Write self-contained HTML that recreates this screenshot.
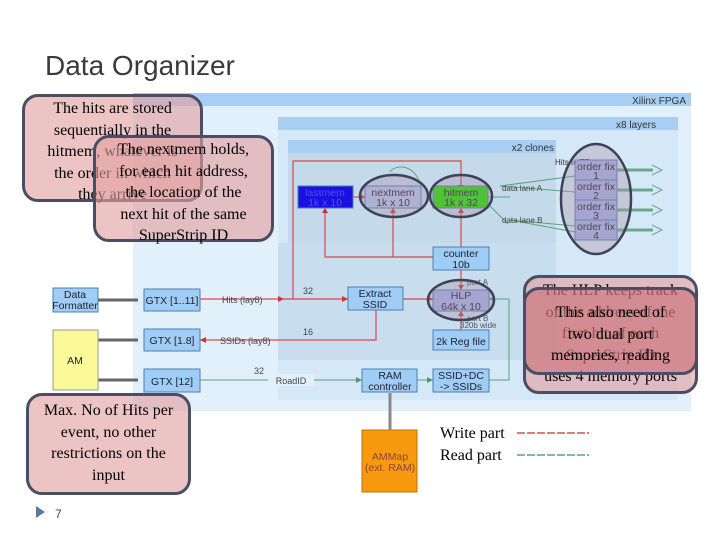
<!DOCTYPE html>
<html><head><meta charset="utf-8"><style>
body{margin:0;width:720px;height:540px;background:#fff;overflow:hidden;position:relative;font-family:"Liberation Sans",sans-serif}
.t{position:absolute;left:45px;top:50px;font-size:28px;color:#3a3a3a}
.c{position:absolute;border:3px solid #4a4e62;border-radius:16px;background:rgba(226,160,160,.62);font-family:"Liberation Serif",serif;font-size:16px;line-height:21.5px;text-align:center;color:#000;box-sizing:border-box;white-space:nowrap}
</style></head><body>
<div class="t">Data Organizer</div>
<svg width="720" height="540" style="position:absolute;left:0;top:0" font-family="Liberation Sans,sans-serif">
<rect x="133" y="93" width="558" height="318" fill="#e2f0fb"/>
<rect x="133" y="93" width="558" height="13" fill="#a8cff3"/>
<text x="686" y="104" font-size="10" text-anchor="end" fill="#333">Xilinx FPGA</text>
<rect x="278" y="117" width="400" height="283" fill="#d4e8f7"/>
<rect x="278" y="117" width="400" height="13" fill="#a8cff3"/>
<text x="656" y="128" font-size="10" text-anchor="end" fill="#333">x8 layers</text>
<rect x="288" y="140" width="268" height="103" fill="#c4d9ea"/>
<rect x="288" y="140" width="268" height="13" fill="#a8cff3"/>
<text x="554" y="151" font-size="10" text-anchor="end" fill="#333">x2 clones</text>
<rect x="278" y="243" width="278" height="117" fill="#c8ddee"/>
<g stroke="#d84a4a" stroke-width="1.2" fill="none">
<path d="M293 299V161H461V186"/><path d="M200 299H348"/><path d="M403 299H433"/>
<path d="M376 310V340H200"/><path d="M461 270V290"/><path d="M461 247V208"/>
<path d="M433 257H325V208"/><path d="M393 257V208"/><path d="M353 197H365"/><path d="M461 330V311"/>
</g>
<g fill="#d83030"><path d="M461 190l-3-5h6z"/><path d="M348 299l-6-3v6z"/><path d="M433 299l-6-3v6z"/><path d="M200 340l6-3v6z"/><path d="M461 290l-3-5h6z"/><path d="M461 311l-3 5h6z"/><path d="M325 208l-3 5h6z"/><path d="M393 208l-3 5h6z"/><path d="M461 208l-3 5h6z"/><path d="M365 197l-5-3v6z"/><path d="M284 299l-6-3v6z"/></g>
<g stroke="#5aa57a" stroke-width="1" fill="none"><path d="M200 380H362"/><path d="M417 380H433"/><path d="M489 380H509V299H489"/><path d="M488 197H510M488 204l20 20"/><path d="M500 186l75-10M500 186l75 6M510 220l65 6M510 220l65 12"/><path d="M390 172c5-8 25-8 30 12"/></g>
<g fill="#4a9a6a"><path d="M362 380l-6-3v6z"/><path d="M433 380l-6-3v6z"/><path d="M489 299l6-3v6z"/></g>
<rect x="268" y="374" width="46" height="12" fill="#e2f0fb"/><text x="291" y="384" font-size="9" text-anchor="middle" fill="#444">RoadID</text>
<text x="222" y="303" font-size="9" fill="#444">Hits (lay8)</text><text x="220" y="344" font-size="9" fill="#444">SSIDs (lay8)</text>
<text x="303" y="294" font-size="9" fill="#444">32</text><text x="303" y="335" font-size="9" fill="#444">16</text><text x="254" y="374" font-size="9" fill="#444">32</text>
<text x="467" y="285" font-size="8" fill="#555">port A</text><text x="467" y="321" font-size="8" fill="#555">port B</text><text x="460" y="328" font-size="8" fill="#555">320b wide</text>
<text x="555" y="165" font-size="8" fill="#333">Hits to TF</text><text x="502" y="191" font-size="8" fill="#444">data lane A</text><text x="502" y="223" font-size="8" fill="#444">data lane B</text>
<g stroke="#6aa88a" stroke-width="3" fill="none"><path d="M617 170h36M617 190h36M617 210h36M617 230h36"/></g>
<g fill="none" stroke="#6aa88a"><path d="M652 165l10 5-10 5M652 185l10 5-10 5M652 205l10 5-10 5M652 225l10 5-10 5"/></g>
<g stroke="#666" fill="none" stroke-width="3"><path d="M98 300h40M98 340h40M98 380h40"/></g>
<g stroke="#5080b0" stroke-width="1" font-size="10.5" text-anchor="middle">
<rect x="53" y="288" width="45" height="24" fill="#9fcdf5"/><rect x="53" y="330" width="45" height="60" fill="#fafa98" stroke="#999"/>
<rect x="144" y="289" width="56" height="22" fill="#9fcdf5"/><rect x="144" y="329" width="56" height="22" fill="#9fcdf5"/><rect x="144" y="369" width="56" height="23" fill="#9fcdf5"/>
<rect x="348" y="287" width="55" height="23" fill="#9fcdf5"/><rect x="433" y="290" width="56" height="21" fill="#a4b2e8"/>
<rect x="433" y="247" width="56" height="23" fill="#9fcdf5"/><rect x="433" y="330" width="56" height="20" fill="#9fcdf5"/>
<rect x="362" y="369" width="55" height="23" fill="#9fcdf5"/><rect x="433" y="369" width="56" height="23" fill="#9fcdf5"/>
<rect x="362" y="430" width="55" height="62" fill="#f79a10" stroke="#c07000"/>
<rect x="298" y="186" width="55" height="22" fill="#1a10e0"/><rect x="365" y="186" width="56" height="22" fill="#b4c2f0"/><rect x="433" y="186" width="55" height="22" fill="#22dd00"/>
<rect x="575" y="160" width="42" height="20" fill="#a4b2e8"/><rect x="575" y="180" width="42" height="20" fill="#a4b2e8"/><rect x="575" y="200" width="42" height="20" fill="#a4b2e8"/><rect x="575" y="220" width="42" height="20" fill="#a4b2e8"/>
</g>
<path d="M390 393v37" stroke="#888" stroke-width="3"/>
<g font-size="10.5" text-anchor="middle" fill="#223">
<text x="75" y="298">Data</text><text x="75" y="309">Formatter</text><text x="75" y="364">AM</text>
<text x="172" y="304">GTX [1..11]</text><text x="172" y="344">GTX [1.8]</text><text x="172" y="385">GTX [12]</text>
<text x="375" y="297">Extract</text><text x="375" y="308">SSID</text><text x="461" y="299">HLP</text><text x="461" y="310">64k x 10</text>
<text x="461" y="257">counter</text><text x="461" y="268">10b</text><text x="461" y="345">2k Reg file</text>
<text x="390" y="379">RAM</text><text x="390" y="390">controller</text><text x="461" y="379">SSID+DC</text><text x="461" y="390">-&gt; SSIDs</text>
<text x="390" y="460" fill="#844">AMMap</text><text x="390" y="471" fill="#844">(ext. RAM)</text>
<text x="325" y="196" fill="#5050f0">lastmem</text><text x="325" y="206" fill="#5050f0">1k x 10</text>
<text x="393" y="196">nextmem</text><text x="393" y="206">1k x 10</text><text x="461" y="196">hitmem</text><text x="461" y="206">1k x 32</text>
<text x="596" y="170">order fix</text><text x="596" y="179">1</text><text x="596" y="190">order fix</text><text x="596" y="199">2</text><text x="596" y="210">order fix</text><text x="596" y="219">3</text><text x="596" y="230">order fix</text><text x="596" y="239">4</text>
</g>
<g fill="rgba(170,140,160,.35)" stroke="#3e4258" stroke-width="2.5">
<ellipse cx="394" cy="196" rx="34" ry="21"/><ellipse cx="461" cy="196" rx="31" ry="21"/><ellipse cx="596" cy="199" rx="35" ry="55"/><ellipse cx="461" cy="300" rx="33" ry="20"/>
</g>
<text x="440" y="438" font-size="16" font-family="Liberation Serif,serif">Write part</text><text x="440" y="460" font-size="16" font-family="Liberation Serif,serif">Read  part</text>
<path d="M517 433h72" stroke="#c03030" stroke-width="1.3" stroke-dasharray="8,2"/><path d="M517 455h72" stroke="#309070" stroke-width="1.3" stroke-dasharray="8,2"/>
<path d="M36 506l9 6-9 6z" fill="#5a7aa0"/><text x="55" y="518" font-size="12" fill="#444">7</text>
</svg>
<div class="c" style="left:22px;top:94px;width:181px;height:108px;padding-top:1px">The hits are stored<br>sequentially in the<br>hitmem, whatever is<br>the order in which<br>they arrive</div>
<div class="c" style="left:93px;top:135px;width:181px;height:107px;padding-top:1px">The nextmem holds,<br>for each hit address,<br>the location of the<br>next hit of the same<br>SuperStrip ID</div>
<div class="c" style="left:523px;top:275px;width:175px;height:119px;padding-top:2px">The HLP keeps track<br>of the address of the<br>first hit of each<br>SuperStrip ID<br>uses 4 memory ports</div>
<div class="c" style="left:523px;top:287px;width:175px;height:88px;padding-top:12px;background:rgba(205,120,125,.7)">This also need of<br>two dual port<br>memories, reading</div>
<div class="c" style="left:26px;top:393px;width:165px;height:102px;padding-top:4px">Max. No of Hits per<br>event, no other<br>restrictions on the<br>input</div>
</body></html>
